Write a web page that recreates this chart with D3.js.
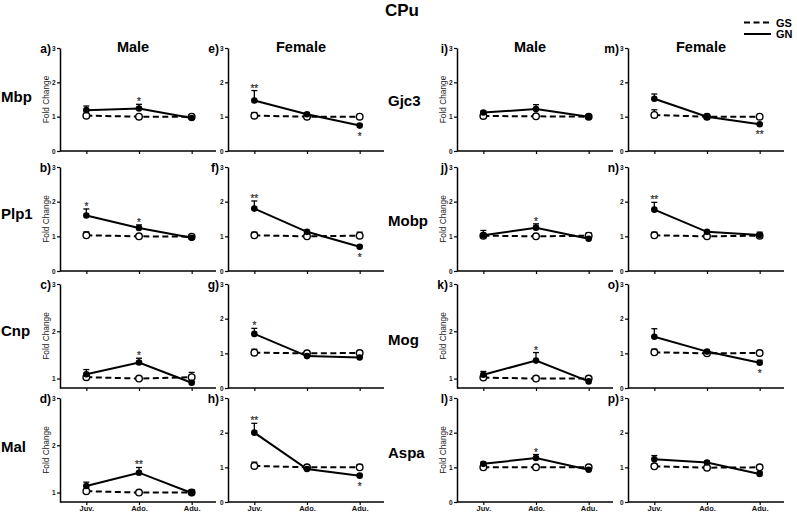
<!DOCTYPE html>
<html><head><meta charset="utf-8">
<script src="https://cdn.jsdelivr.net/npm/d3@7"></script>
<style>
html,body{margin:0;padding:0;background:#fff;}
svg{display:block;font-family:"Liberation Sans",Arial,sans-serif;}
</style></head>
<body>
<svg id="chart" width="797" height="513"></svg>
<script>
// ---------- DATA ----------
const timepoints = ["Juv.", "Ado.", "Adu."];
const genesLeft = ["Mbp", "Plp1", "Cnp", "Mal"];
const genesRight = ["Gjc3", "Mobp", "Mog", "Aspa"];
const sexes = ["Male", "Female"];
// panels in order a..p: left-male (a-d), left-female (e-h), right-male (i-l), right-female (m-p)
const panelLetters = ["a)","b)","c)","d)","e)","f)","g)","h)","i)","j)","k)","l)","m)","n)","o)","p)"];
const yMin = [0,0,0.8,0.8, 0,0,0,0, 0,0,0.8,0, 0,0,0,0];
const gnMean = [
  [1.19,1.24,0.96],[1.60,1.24,0.96],[1.09,1.34,0.91],[1.14,1.42,0.99],
  [1.47,1.07,0.74],[1.80,1.13,0.70],[1.56,0.92,0.88],[2.00,0.95,0.76],
  [1.12,1.22,1.00],[1.03,1.25,0.93],[1.08,1.38,0.94],[1.10,1.27,0.93],
  [1.52,1.00,0.78],[1.77,1.13,1.04],[1.48,1.05,0.73],[1.23,1.14,0.81]
];
const gnErrTop = [
  [1.31,1.36,1.06],[1.79,1.33,0.99],[1.19,1.43,0.94],[1.22,1.53,1.03],
  [1.76,1.10,0.78],[2.02,1.17,0.73],[1.72,0.95,0.90],[2.27,0.98,0.79],
  [1.16,1.35,1.04],[1.17,1.36,0.95],[1.15,1.55,0.97],[1.15,1.37,0.96],
  [1.66,1.02,0.80],[1.98,1.16,1.12],[1.71,1.08,0.80],[1.34,1.17,0.87]
];
const gsMean = [
  [1.03,1.00,1.00],[1.03,1.00,0.99],[1.03,1.00,1.03],[1.03,1.00,1.00],
  [1.03,1.00,1.00],[1.03,1.00,1.02],[1.02,1.00,1.01],[1.04,1.00,1.00],
  [1.02,1.01,1.00],[1.02,1.00,1.02],[1.02,1.00,1.00],[1.00,1.00,1.00],
  [1.05,1.00,1.00],[1.03,1.00,1.02],[1.03,1.00,1.01],[1.03,0.99,1.00]
];
const gsErrTop = [
  [1.06,1.02,1.06],[1.13,1.02,1.02],[1.06,1.02,1.13],[1.05,1.02,1.06],
  [1.12,1.02,1.02],[1.12,1.02,1.12],[1.12,1.02,1.06],[1.15,1.03,1.08],
  [1.04,1.03,1.02],[1.05,1.02,1.10],[1.08,1.02,1.03],[1.02,1.02,1.02],
  [1.20,1.02,1.02],[1.12,1.02,1.05],[1.12,1.02,1.08],[1.10,1.02,1.02]
];
const signif = [
  ["","*",""],["*","*",""],["","*",""],["","**",""],
  ["**","","*"],["**","","*"],["*","",""],["**","","*"],
  ["","",""],["","*",""],["","*",""],["","*",""],
  ["","","**"],["**","",""],["","","*"],["","",""]
];
const seriesNames = ["GS", "GN"];

// ---------- LAYOUT ----------
const svg = d3.select("#chart");
const colAxisX = [60, 228, 457, 628];
const rowTop = [48, 167, 284, 398];
const rowBottom = [151, 271, 388, 502];
const axisLen = 156;

svg.append("text").attr("x", 402).attr("y", 16).attr("text-anchor", "middle")
  .attr("font-size", 17).attr("font-weight", "bold").text("CPu");

// legend
const lg = svg.append("g");
seriesNames.forEach((s, i) => {
  const y = 22.5 + i * 11.5;
  lg.append("line").attr("x1", 744).attr("x2", 771).attr("y1", y).attr("y2", y)
    .attr("stroke", "#000").attr("stroke-width", 2)
    .attr("stroke-dasharray", s === "GS" ? "6,3.5" : null);
  lg.append("text").attr("x", 776).attr("y", y + 4).attr("font-size", 11)
    .attr("font-weight", "bold").text(s);
});

// column headers
colAxisX.forEach((ax, c) => {
  svg.append("text").attr("x", ax + 73).attr("y", 52).attr("text-anchor", "middle")
    .attr("font-size", 14.5).attr("font-weight", "bold").text(sexes[c % 2]);
});

// gene labels
const geneBaseLeft = [102, 219, 336, 452];
const geneBaseRight = [106, 226, 345, 458];
genesLeft.forEach((g, r) => {
  svg.append("text").attr("x", 1).attr("y", geneBaseLeft[r]).attr("font-size", 15)
    .attr("font-weight", "bold").text(g);
});
genesRight.forEach((g, r) => {
  svg.append("text").attr("x", 388).attr("y", geneBaseRight[r]).attr("font-size", 15)
    .attr("font-weight", "bold").text(g);
});

// panels
for (let p = 0; p < 16; p++) {
  const c = Math.floor(p / 4), r = p % 4;
  const ax = colAxisX[c];
  const top = rowTop[r], bot = rowBottom[r];
  const g = svg.append("g").attr("transform", `translate(${ax},0)`);
  const x = d3.scalePoint().domain(timepoints).range([0, 158]).padding(0.5);
  const y = d3.scaleLinear().domain([yMin[p], 3]).range([bot, top]);
  const yTicks = yMin[p] === 0 ? [0, 1, 2, 3] : [1, 2, 3];

  const yAxis = g.append("g").call(d3.axisLeft(y).tickValues(yTicks).tickSize(3).tickSizeOuter(0).tickPadding(1.5).tickFormat(d3.format("d")));
  const xAxis = g.append("g").attr("transform", `translate(0,${bot})`)
    .call(d3.axisBottom(x).tickSize(3).tickSizeOuter(0).tickPadding(1)
      .tickFormat(r === 3 ? (d => d) : () => ""));
  xAxis.select(".domain").attr("d", `M0,0H${axisLen}`);
  [yAxis, xAxis].forEach(a => {
    a.select(".domain").attr("stroke", "#000").attr("stroke-width", 1.5);
    a.selectAll(".tick line").attr("stroke", "#000").attr("stroke-width", 1.2);
    a.selectAll(".tick text").attr("font-family", "Liberation Sans, Arial, sans-serif")
      .attr("font-weight", "bold").attr("fill", "#111");
  });
  yAxis.selectAll(".tick text").attr("font-size", 6.5);
  xAxis.selectAll(".tick text").attr("font-size", 7.5);

  // panel letter
  g.append("text").attr("x", -9).attr("y", top + 5).attr("text-anchor", "end")
    .attr("font-size", 12).attr("font-weight", "bold").text(panelLetters[p]);

  // Fold Change label (male panels only)
  if (c % 2 === 0) {
    g.append("text").attr("transform", `translate(-11,${(top + bot) / 2}) rotate(-90)`)
      .attr("text-anchor", "middle").attr("font-size", 8.3).attr("fill", "#222")
      .text("Fold Change");
  }

  const gs = timepoints.map((t, i) => ({ t, v: gsMean[p][i], e: gsErrTop[p][i] }));
  const gn = timepoints.map((t, i) => ({ t, v: gnMean[p][i], e: gnErrTop[p][i], s: signif[p][i], ref: gsMean[p][i] }));
  const line = d3.line().x(d => x(d.t)).y(d => y(d.v));

  // error bars
  [gs, gn].forEach(ser => {
    ser.forEach(d => {
      g.append("line").attr("x1", x(d.t)).attr("x2", x(d.t)).attr("y1", y(d.v)).attr("y2", y(d.e))
        .attr("stroke", "#000").attr("stroke-width", 1.3);
      g.append("line").attr("x1", x(d.t) - 3).attr("x2", x(d.t) + 3).attr("y1", y(d.e)).attr("y2", y(d.e))
        .attr("stroke", "#000").attr("stroke-width", 1.3);
    });
  });

  g.append("path").datum(gs).attr("d", line).attr("fill", "none").attr("stroke", "#000")
    .attr("stroke-width", 2).attr("stroke-dasharray", "6,3.5");
  g.append("path").datum(gn).attr("d", line).attr("fill", "none").attr("stroke", "#000")
    .attr("stroke-width", 2);

  g.selectAll(".gsdot").data(gs).join("circle").attr("cx", d => x(d.t)).attr("cy", d => y(d.v))
    .attr("r", 3.3).attr("fill", "#fff").attr("stroke", "#000").attr("stroke-width", 1.4);
  g.selectAll(".gndot").data(gn).join("circle").attr("cx", d => x(d.t)).attr("cy", d => y(d.v))
    .attr("r", 3.3).attr("fill", "#000");

  // significance
  gn.filter(d => d.s).forEach(d => {
    const above = d.v > d.ref;
    const cy = above ? y(d.e) - 5 : y(d.v) + 8;
    g.append("text").attr("x", x(d.t)).attr("y", cy + 6).attr("text-anchor", "middle")
      .attr("font-size", 10).attr("fill", "#333").attr("stroke", "#333").attr("stroke-width", 0.25)
      .text(d.s);
  });
}
</script>
</body></html>
